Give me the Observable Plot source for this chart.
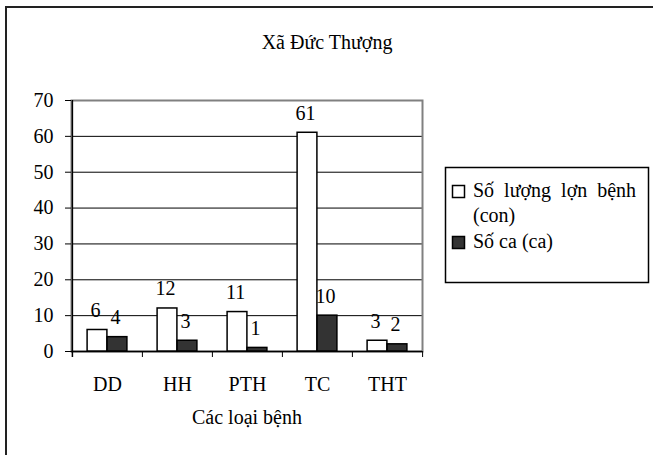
<!DOCTYPE html>
<html><head><meta charset="utf-8">
<script src="https://cdn.jsdelivr.net/npm/d3@7"></script>
<script src="https://cdn.jsdelivr.net/npm/@observablehq/plot@0.6"></script>
<style>body{margin:0;background:#fff} svg{display:block}</style>
</head><body><div id="chart"></div>
<script>
const title = "Xã Đức Thượng";
const xLabel = "Các loại bệnh";
const categories = ["DD", "HH", "PTH", "TC", "THT"];
const seriesNames = ["Số lượng lợn bệnh", "(con)", "Số ca (ca)"];
const soLuongLonBenh = [6, 12, 11, 61, 3];
const soCa = [4, 3, 1, 10, 2];
const yTicks = [0, 10, 20, 30, 40, 50, 60, 70];

const W = 653, H = 455, mL = 71, mR = 231, mT = 100, mB = 104;
const bw = (W - mL - mR) / categories.length;
const barW = 20;
const font = "'Liberation Serif', 'Times New Roman', serif";

const rows1 = categories.map((c, i) => ({cat: c, value: soLuongLonBenh[i]}));
const rows2 = categories.map((c, i) => ({cat: c, value: soCa[i]}));

const chart = Plot.plot({
  width: W, height: H,
  marginLeft: mL, marginRight: mR, marginTop: mT, marginBottom: mB,
  style: {fontFamily: font, fontSize: "20px", color: "#000", background: "#fff", overflow: "visible"},
  x: {domain: categories, padding: 0, label: null},
  y: {domain: [0, 70], label: null},
  marks: [
    Plot.gridY(yTicks.slice(1, -1), {stroke: "#000", strokeOpacity: 1, strokeWidth: 1}),
    Plot.frame({stroke: "#808080", strokeWidth: 2}),
    Plot.ruleY([0], {stroke: "#000", strokeWidth: 1.5}),
    Plot.ruleX([categories[0]], {x: d => d, y1: 0, y2: 70, dx: -bw / 2, insetTop: 6, stroke: "#000", strokeWidth: 1.5}),
    Plot.ruleX(categories.slice(1), {x: d => d, y1: 0, y2: 0, dx: -bw / 2, insetTop: 6, stroke: "#000", strokeWidth: 1}),
    Plot.ruleX([categories[categories.length - 1]], {x: d => d, y1: 0, y2: 0, dx: bw / 2, insetTop: 6, stroke: "#000", strokeWidth: 1}),
    Plot.axisY(yTicks, {tickSize: 6, tickPadding: 12, stroke: "#000", fontSize: 20}),
    Plot.axisX({tickSize: 0, tickPadding: 25, fontSize: 20}),
    Plot.barY(rows1, {x: "cat", y: "value", fill: "#fff", stroke: "#000", strokeWidth: 1.5,
      insetLeft: bw / 2 - barW, insetRight: bw / 2}),
    Plot.barY(rows2, {x: "cat", y: "value", fill: "#333", stroke: "#000", strokeWidth: 1.5,
      insetLeft: bw / 2, insetRight: bw / 2 - barW}),
    Plot.text(rows1, {x: "cat", y: "value", text: d => String(d.value), dx: -barW / 2 - 2, dy: -13,
      lineAnchor: "bottom", fontSize: 20, fill: "#000"}),
    Plot.text(rows2, {x: "cat", y: "value", text: d => String(d.value), dx: barW / 2 - 2, dy: -13,
      lineAnchor: "bottom", fontSize: 20, fill: "#000"}),
    Plot.text([title], {frameAnchor: "top", dx: W / 2 - (mL + (W - mL - mR) / 2), dy: -52,
      lineAnchor: "bottom", fontSize: 20, fill: "#000"}),
    Plot.text([xLabel], {frameAnchor: "bottom", dy: 72, lineAnchor: "bottom", fontSize: 20, fill: "#000"})
  ]
});

const svg = d3.select(chart);
// outer chart border (left and top visible)
svg.append("path").attr("d", `M6,${H} V7 H${W}`).attr("fill", "none").attr("stroke", "#222").attr("stroke-width", 2);

// legend
const lg = svg.append("g").attr("font-family", font).attr("font-size", 20).attr("text-anchor", "start");
lg.append("rect").attr("x", 445.5).attr("y", 167.5).attr("width", 203).attr("height", 115)
  .attr("fill", "#fff").attr("stroke", "#000").attr("stroke-width", 1.5);
lg.append("rect").attr("x", 452.5).attr("y", 185.5).attr("width", 12).attr("height", 12)
  .attr("fill", "#fff").attr("stroke", "#000").attr("stroke-width", 1.5);
lg.append("rect").attr("x", 452.5).attr("y", 236.5).attr("width", 12).attr("height", 12)
  .attr("fill", "#333").attr("stroke", "#000").attr("stroke-width", 1.5);
lg.append("text").attr("x", 473).attr("y", 197).attr("word-spacing", 5).text(seriesNames[0]);
lg.append("text").attr("x", 473).attr("y", 222).text(seriesNames[1]);
lg.append("text").attr("x", 473).attr("y", 248).text(seriesNames[2]);

document.getElementById("chart").appendChild(chart);
</script>
</body></html>
